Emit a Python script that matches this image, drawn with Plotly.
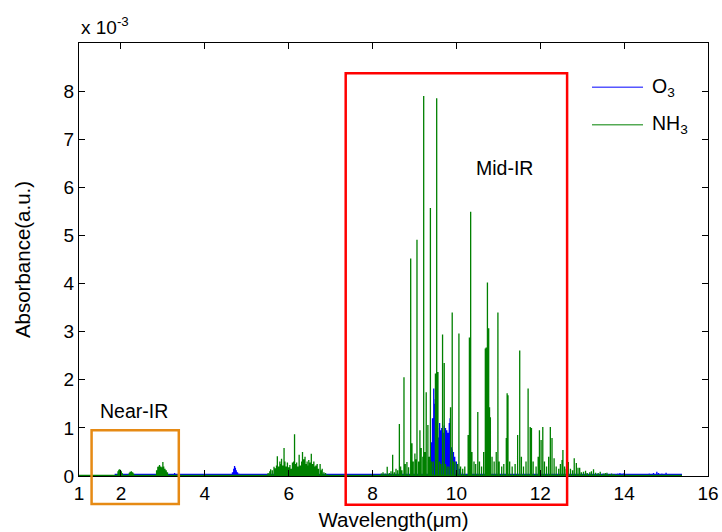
import plotly.graph_objects as go

# ---------------- data (absorbance in units of 1e-3) ----------------
nh3_wl = [1.93, 1.95, 1.97, 1.99, 2.01, 2.03, 2.20, 2.22, 2.25, 2.28, 2.30, 2.60,
          2.85, 2.88, 2.90, 2.92, 2.95, 2.98, 3.00, 3.02, 3.05, 3.08, 3.11,
          5.51, 5.55, 5.57, 5.61, 5.65, 5.68, 5.71, 5.73, 5.76, 5.79, 5.81, 5.83, 5.86, 5.89,
          5.91, 5.94, 5.97, 6.00, 6.03, 6.06, 6.09, 6.12, 6.14, 6.16, 6.19, 6.22, 6.25, 6.28,
          6.31, 6.33, 6.36, 6.39, 6.42, 6.44, 6.46, 6.48, 6.51, 6.54, 6.57, 6.60, 6.63, 6.65,
          6.68, 6.71, 6.75, 6.78, 6.80, 6.84, 6.88, 6.93,
          8.21, 8.25, 8.30, 8.35, 8.40, 8.44, 8.48, 8.52, 8.56, 8.60, 8.64, 8.67, 8.70, 8.75,
          8.78, 8.82, 8.86, 8.91, 8.94, 8.97, 9.01, 9.04, 9.06, 9.10, 9.13, 9.16, 9.20, 9.22,
          9.25, 9.28, 9.32, 9.35, 9.38, 9.41, 9.45, 9.50, 9.53, 9.56, 9.60, 9.63, 9.67, 9.71,
          9.74, 9.78, 9.82, 9.86, 9.90, 9.93, 9.97, 10.02, 10.06, 10.10, 10.15, 10.20, 10.28,
          10.31, 10.34, 10.37, 10.42, 10.46, 10.51, 10.55, 10.60, 10.65, 10.69, 10.71, 10.74,
          10.77, 10.79, 10.81, 10.85, 10.90, 10.95, 10.99, 11.02, 11.08, 11.13, 11.19, 11.21,
          11.23, 11.27, 11.33, 11.40, 11.46, 11.51, 11.55, 11.60, 11.66, 11.71, 11.76, 11.79,
          11.83, 11.90, 11.95, 11.98, 12.02, 12.06, 12.10, 12.15, 12.20, 12.24, 12.28, 12.33,
          12.38, 12.44, 12.48, 12.52, 12.54, 12.58, 12.62, 12.67, 12.72, 12.77, 12.81, 12.86,
          12.90, 12.94, 12.98, 13.03, 13.08, 13.12, 13.18, 13.22, 13.27, 13.32, 13.38, 13.43,
          13.50, 13.55, 13.59, 13.65, 13.70, 13.76, 13.82]
nh3_abs = [0.10, 0.13, 0.14, 0.12, 0.10, 0.06, 0.07, 0.09, 0.10, 0.08, 0.05, 0.02,
           0.12, 0.19, 0.20, 0.23, 0.20, 0.18, 0.29, 0.20, 0.15, 0.12, 0.08,
           0.06, 0.10, 0.14, 0.12, 0.19, 0.16, 0.22, 0.41, 0.20, 0.30, 0.25, 0.36, 0.22, 0.58,
           0.30, 0.20, 0.28, 0.18, 0.23, 0.15, 0.28, 0.30, 0.87, 0.25, 0.28, 0.20, 0.44, 0.22,
           0.30, 0.50, 0.35, 0.40, 0.25, 0.30, 0.22, 0.33, 0.28, 0.46, 0.25, 0.30, 0.20, 0.22,
           0.25, 0.15, 0.25, 0.12, 0.15, 0.08, 0.06, 0.03,
           0.05, 0.08, 0.05, 0.19, 0.06, 0.10, 0.44, 0.08, 0.15, 0.12, 1.08, 0.20, 0.12, 2.05,
           0.25, 0.29, 0.18, 4.52, 0.68, 0.30, 0.47, 0.35, 4.91, 0.30, 0.95, 0.58, 0.40, 7.90,
           0.50, 1.74, 1.06, 0.40, 5.57, 0.30, 0.30, 2.13, 7.85, 2.16, 0.30, 0.25, 2.94, 2.35,
           0.25, 0.20, 0.20, 1.43, 3.40, 0.30, 0.30, 0.25, 2.96, 0.20, 0.15, 0.20, 0.85,
           2.88, 5.49, 0.50, 0.30, 0.25, 1.33, 0.30, 0.20, 0.50, 2.65, 2.67, 4.02,
           3.07, 1.43, 1.22, 0.40, 0.30, 0.50, 3.40, 0.30, 0.20, 0.25, 0.79, 1.72,
           1.68, 0.30, 0.20, 0.25, 0.85, 2.61, 0.40, 0.20, 0.30, 1.82, 1.02, 1.00,
           0.30, 0.20, 0.40, 0.95, 0.75, 1.02, 0.30, 0.20, 0.40, 1.02, 0.79, 0.37,
           0.20, 0.15, 0.25, 0.33, 0.54, 0.20, 0.15, 0.29, 0.15, 0.12, 0.37, 0.27,
           0.17, 0.17, 0.08, 0.09, 0.11, 0.06, 0.08, 0.10, 0.14, 0.07, 0.06, 0.09,
           0.05, 0.06, 0.07, 0.04, 0.05, 0.04, 0.03]
nh3_span = [1.0, 15.38]
nh3_base = 0.015

o3_wl = [2.10, 2.30, 2.50, 2.70, 3.28, 3.30, 4.66, 4.69, 4.71, 4.73, 4.75, 4.78, 4.81, 4.84,
         6.25, 6.40, 6.55,
         9.35, 9.38, 9.40, 9.43, 9.46, 9.48, 9.50, 9.52, 9.55, 9.58, 9.60, 9.62, 9.65, 9.68, 9.71,
         9.74, 9.77, 9.80, 9.83, 9.85, 9.88, 9.90, 9.93, 9.96, 10.00, 10.03, 10.07, 10.10, 10.14,
         13.85, 13.90, 13.95, 14.00, 14.05, 14.60, 14.70, 14.78, 14.82, 14.90, 15.00, 15.10]
o3_abs = [0.03, 0.03, 0.03, 0.04, 0.06, 0.04, 0.08, 0.15, 0.21, 0.17, 0.12, 0.08, 0.05, 0.03,
          0.03, 0.03, 0.03,
          0.10, 0.40, 0.70, 1.20, 1.82, 1.50, 1.60, 1.30, 1.00, 0.80, 1.10, 0.95, 1.00, 0.90, 1.05,
          1.00, 0.95, 0.90, 1.10, 1.20, 0.60, 0.55, 0.50, 0.40, 0.30, 0.25, 0.15, 0.08, 0.03,
          0.05, 0.06, 0.05, 0.06, 0.04, 0.05, 0.06, 0.09, 0.06, 0.05, 0.07, 0.04]
o3_span = [1.85, 15.38]
o3_base = 0.035

x_ticks = [1, 2, 4, 6, 8, 10, 12, 14, 16]
y_ticks = [0, 1, 2, 3, 4, 5, 6, 7, 8]
x_range = [1, 16]
y_range = [0, 9]

near_box = dict(x0=1.30, x1=3.38, y0=-0.58, y1=0.95)
mid_box = dict(x0=7.36, x1=12.64, y0=-0.60, y1=8.37)

FONT = "Liberation Sans, Arial, sans-serif"


def spikes(wl, ab, span, base):
    xs, ys = [span[0]], [base]
    for w, a in zip(wl, ab):
        xs += [w, w, w]
        ys += [base, a, base]
    xs.append(span[1])
    ys.append(base)
    return xs, ys


def to_paper(box):
    px = lambda v: (v - x_range[0]) / (x_range[1] - x_range[0])
    py = lambda v: (v - y_range[0]) / (y_range[1] - y_range[0])
    return dict(x0=px(box["x0"]), x1=px(box["x1"]), y0=py(box["y0"]), y1=py(box["y1"]))


fig = go.Figure()
ox, oy = spikes(o3_wl, o3_abs, o3_span, o3_base)
nx, ny = spikes(nh3_wl, nh3_abs, nh3_span, nh3_base)
fig.add_trace(go.Scatter(x=ox, y=oy, mode="lines", name="O3",
                         line=dict(color="rgb(0,0,255)", width=1.3)))
fig.add_trace(go.Scatter(x=nx, y=ny, mode="lines", name="NH3",
                         line=dict(color="rgb(0,128,0)", width=1.3)))

axis_common = dict(showline=True, linecolor="black", linewidth=1, mirror="ticks",
                   ticks="inside", ticklen=6, tickwidth=1, tickcolor="black",
                   showgrid=False, zeroline=False, automargin=False,
                   tickfont=dict(family=FONT, size=19, color="black"))

fig.update_layout(
    width=722, height=532,
    margin=dict(l=79, r=14, t=43, b=56),
    plot_bgcolor="white", paper_bgcolor="white",
    showlegend=False,
    font=dict(family=FONT, size=19, color="black"),
    xaxis=dict(range=x_range, tickvals=x_ticks, **axis_common,
               title=dict(text="Wavelength(μm)", font=dict(family=FONT, size=20.5), standoff=9)),
    yaxis=dict(range=y_range, tickvals=y_ticks, **axis_common,
               title=dict(text="Absorbance(a.u.)", font=dict(family=FONT, size=20.5), standoff=27)),
)

# annotation boxes
for box, col in [(near_box, "rgb(230,138,20)"), (mid_box, "rgb(255,0,0)")]:
    fig.add_shape(type="rect", xref="paper", yref="paper", **to_paper(box),
                  line=dict(color=col, width=2.5), fillcolor="rgba(0,0,0,0)", layer="above")

fig.add_annotation(x=2.30, y=1.35, xref="x", yref="y", text="Near-IR", showarrow=False,
                   font=dict(family=FONT, size=19.5, color="black"))
fig.add_annotation(x=11.14, y=6.40, xref="x", yref="y", text="Mid-IR", showarrow=False,
                   font=dict(family=FONT, size=19.5, color="black"))

# exponent label
fig.add_annotation(x=0, y=1.008, xref="paper", yref="paper", xanchor="left", yanchor="bottom",
                   text="x 10<sup>-3</sup>", showarrow=False,
                   font=dict(family=FONT, size=19, color="black"))

# manual legend (MATLAB style, no box)
legend_items = [("O<sub>3</sub>", "rgb(0,0,255)", 0.898), ("NH<sub>3</sub>", "rgb(0,128,0)", 0.811)]
for label, col, yp in legend_items:
    fig.add_shape(type="line", xref="paper", yref="paper", x0=0.8156, x1=0.8967, y0=yp, y1=yp,
                  line=dict(color=col, width=1))
    fig.add_annotation(x=0.908, y=yp, xref="paper", yref="paper", xanchor="left", yanchor="middle",
                       text=label, showarrow=False, font=dict(family=FONT, size=19.5, color="black"))

fig.write_html("out.html")
